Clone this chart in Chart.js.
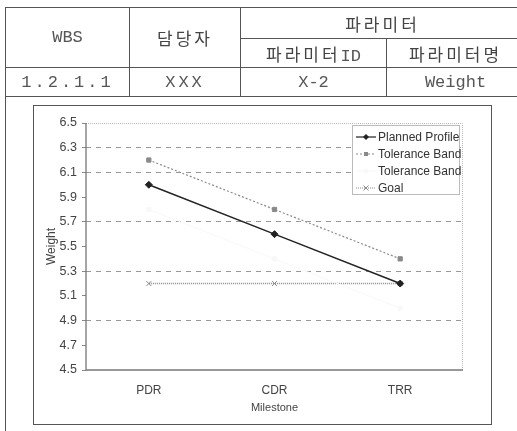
<!DOCTYPE html>
<html lang="ko">
<head>
  <meta charset="UTF-8">
  <title>파라미터 Weight</title>
  <script src="https://cdn.jsdelivr.net/npm/chart.js"></script>
  <style>
    body { margin: 0; background: #fff; width: 517px; height: 431px; overflow: hidden; position: relative; }
    /* 상단 표 */
    table.info {
      position: absolute; left: 5px; top: 7px; width: 520px;
      border-collapse: collapse; color: #555; will-change: transform;
      font-family: "Liberation Mono", "Noto Sans CJK KR", monospace; font-size: 17px;
    }
    table.info td { border: 1.5px solid #555; text-align: center; padding: 0; }
    .kr { font-family: "Noto Sans CJK KR", sans-serif; font-size: 17px; letter-spacing: 3px; font-weight: 400; color: #444; }
    .sp { letter-spacing: 3px; }
    #cellLine { position: absolute; left: 5px; top: 96px; height: 340px; border-left: 1.5px solid #555; }
    #chartBox {
      position: absolute; left: 33px; top: 105px; width: 459px; height: 320px;
      border: 1.5px solid #555; box-sizing: border-box;
    }
    #legend {
      position: absolute; left: 352px; top: 125px; width: 108px; height: 70px;
      border: 1px solid #bbb; box-sizing: border-box; background: #fff; will-change: transform;
      font-family: "Liberation Sans", Arial, sans-serif; font-size: 12px; color: #333;
      padding-top: 3px;
    }
    #legend div { height: 17px; line-height: 17px; white-space: nowrap; }
    #legend svg { vertical-align: middle; margin: 0 2px 2px 3px; }
  </style>
</head>
<body>
  <table class="info">
    <tr style="height:31px">
      <td rowspan="2" style="width:123px">WBS</td>
      <td rowspan="2" style="width:110px" class="kr">담당자</td>
      <td colspan="2" class="kr">파라미터</td>
    </tr>
    <tr style="height:29px">
      <td style="width:145px"><span class="kr">파라미터</span>ID</td>
      <td class="kr">파라미터명</td>
    </tr>
    <tr style="height:29px">
      <td class="sp">1.2.1.1</td>
      <td class="sp">XXX</td>
      <td>X-2</td>
      <td>Weight</td>
    </tr>
  </table>
  <div id="cellLine"></div>

  <div id="chartBox"><canvas id="weightChart"></canvas></div>
  <div id="legend"></div>

  <script>
    // 데이터
    const milestones = ['PDR', 'CDR', 'TRR'];
    const seriesNames = ['Planned Profile', 'Tolerance Band', 'Tolerance Band', 'Goal'];
    const plannedProfile = [6.0, 5.6, 5.2];
    const toleranceUpper = [6.2, 5.8, 5.4];
    const toleranceLower = [5.8, 5.4, 5.0];
    const goal = [5.2, 5.2, 5.2];
    const yTicks = [4.5, 4.7, 4.9, 5.1, 5.3, 5.5, 5.7, 5.9, 6.1, 6.3, 6.5];
    const dashedGrid = [4.9, 5.3, 5.7, 6.1, 6.3];

    const styles = [
      { color: '#222', dash: [], point: 'rectRot', r: 3.5, w: 1.5 },
      { color: '#8a8a8a', dash: [2, 2], point: 'rect', r: 3, w: 1.2 },
      { color: '#f8f8f8', dash: [], point: 'rect', r: 3, w: 1 },
      { color: '#8a8a8a', dash: [1, 1], point: 'crossRot', r: 3.5, w: 1.5 }
    ];
    const values = [plannedProfile, toleranceUpper, toleranceLower, goal];

    const datasets = seriesNames.map((name, i) => ({
      label: name,
      data: values[i],
      borderColor: styles[i].color,
      backgroundColor: styles[i].color,
      borderDash: styles[i].dash,
      borderWidth: styles[i].w,
      pointStyle: styles[i].point,
      pointRadius: styles[i].r,
      pointBorderWidth: 1,
      pointBorderColor: styles[i].color,
      tension: 0
    }));

    // 플롯 영역 테두리 (왼쪽/아래 실선, 위/오른쪽 점선)
    const frame = {
      id: 'frame',
      beforeDatasetsDraw(chart) {
        const { ctx, chartArea: a } = chart;
        ctx.save();
        ctx.strokeStyle = '#bbb'; ctx.lineWidth = 1; ctx.setLineDash([1, 1]);
        ctx.beginPath();
        ctx.moveTo(a.left, a.top + 0.5); ctx.lineTo(a.right - 0.5, a.top + 0.5); ctx.lineTo(a.right - 0.5, a.bottom);
        ctx.stroke();
        ctx.strokeStyle = '#777'; ctx.lineWidth = 1.3; ctx.setLineDash([]);
        ctx.beginPath();
        ctx.moveTo(a.left, a.top); ctx.lineTo(a.left, a.bottom); ctx.lineTo(a.right, a.bottom);
        ctx.stroke();
        ctx.restore();
      }
    };

    const font = { family: '"Liberation Sans", Arial, sans-serif', size: 12 };

    new Chart(document.getElementById('weightChart'), {
      type: 'line',
      data: { labels: milestones, datasets },
      options: {
        responsive: true,
        maintainAspectRatio: false,
        animation: false,
        layout: { padding: { left: 0, top: 17, right: 28, bottom: 0 } },
        plugins: { legend: { display: false }, tooltip: { enabled: false } },
        scales: {
          x: {
            offset: true,
            grid: { display: false, drawTicks: false },
            border: { display: false },
            ticks: { color: '#444', font, padding: 13 },
            title: { display: true, text: 'Milestone', color: '#444', font: { ...font, size: 11 }, padding: { top: 0, bottom: 9 } },
            afterFit(s) { s.height = 54; }
          },
          y: {
            min: 4.5, max: 6.5,
            afterBuildTicks(s) { s.ticks = yTicks.map(v => ({ value: v })); },
            grid: {
              color: c => dashedGrid.some(v => Math.abs(v - c.tick.value) < 1e-6) ? '#999' : 'rgba(0,0,0,0)',
              tickColor: '#888',
              tickLength: 4,
              lineWidth: 1
            },
            border: { display: false, dash: [5, 5] },
            ticks: { color: '#444', font: { ...font, size: 12.5 }, padding: 5, callback: v => Number(v).toFixed(1) },
            title: { display: true, text: 'Weight', color: '#444', font: { ...font, size: 12 }, padding: { top: 10, bottom: 0 } },
            afterFit(s) { s.width = 52; }
          }
        }
      },
      plugins: [frame]
    });

    // 범례
    const legend = document.getElementById('legend');
    seriesNames.forEach((name, i) => {
      const st = styles[i];
      const dash = st.dash.length ? ` stroke-dasharray="${st.dash.join(' ')}"` : '';
      let marker = '';
      if (st.point === 'rectRot') marker = `<polygon points="10,1 13,4 10,7 7,4" fill="${st.color}"/>`;
      else if (st.point === 'rect') marker = `<rect x="8" y="2" width="4" height="4" fill="${st.color}"/>`;
      else marker = `<path d="M7.5 1.5 L12.5 6.5 M12.5 1.5 L7.5 6.5" stroke="${st.color}" stroke-width="1"/>`;
      const row = document.createElement('div');
      row.innerHTML = `<svg width="20" height="8"><line x1="0" y1="4" x2="20" y2="4" stroke="${st.color}" stroke-width="1.2"${dash}/>${marker}</svg>${name}`;
      legend.appendChild(row);
    });
  </script>
</body>
</html>
